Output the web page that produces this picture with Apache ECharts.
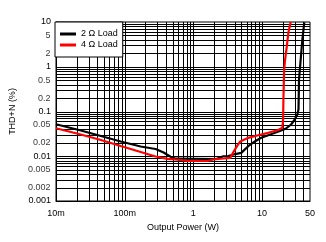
<!DOCTYPE html>
<html><head><meta charset="utf-8">
<script src="https://cdn.jsdelivr.net/npm/echarts@6/dist/echarts.min.js"></script>
<style>html,body{margin:0;padding:0;background:#fff}#c{width:326px;height:242px}</style>
</head><body><div id="c"></div>
<script>
// Output power (W), THD+N (%)
const load2 = [[0.01,0.052],[0.023,0.0376],[0.045,0.0283],[0.0877,0.0214],[0.171,0.0165],[0.282,0.0145],[0.369,0.0121],[0.466,0.00972],[0.55,0.00882],[2.16,0.00868],[2.73,0.0100],[3.23,0.0101],[4.08,0.0112],[4.99,0.0119],[6.30,0.0168],[7.96,0.0217],[9.73,0.0258],[12.3,0.0295],[15.5,0.0334],[19.0,0.0376],[22.4,0.0417],[26.5,0.0512],[30.0,0.0663],[32.7,0.0857],[34.0,0.111],[34.6,0.519],[36.6,1.45],[38.7,4.06],[41.3,9.75]];
const load4 = [[0.01,0.0423],[0.023,0.0306],[0.045,0.0231],[0.0877,0.0169],[0.171,0.01245],[0.282,0.00987],[0.421,0.00877],[0.55,0.00846],[0.822,0.00783],[1.60,0.00783],[1.96,0.00846],[2.73,0.0089],[3.45,0.00923],[3.78,0.0119],[4.32,0.0168],[4.83,0.0214],[6.30,0.0258],[8.80,0.0295],[12.3,0.0334],[17.2,0.0386],[19.8,0.0432],[20.3,0.0663],[20.5,0.185],[21.0,0.868],[21.7,1.45],[23.0,2.88],[24.2,5.74],[26.2,10]];
const seriesNames = ['2 \u03A9 Load','4 \u03A9 Load'];
const xGrid = [0.02,0.03,0.04,0.05,0.06,0.07,0.08,0.09,0.1,0.2,0.3,0.4,0.5,0.6,0.7,0.8,0.9,1,2,3,4,5,6,7,8,9,10,20,30,40];
const yGrid = [0.002,0.003,0.004,0.005,0.006,0.007,0.008,0.009,0.01,0.02,0.03,0.04,0.05,0.06,0.07,0.08,0.09,0.1,0.2,0.3,0.4,0.5,0.6,0.7,0.8,0.9,1,2,3,4,5,6,7,8,9];
const yExtraLabels = [5,2,0.5,0.2,0.05,0.02,0.005,0.002];
const xLabelText = {'0.01':'10m','0.1':'100m','1':'1','10':'10','50':'50'};
const X_MIN = 0.01, X_MAX = 50, Y_MIN = 0.001, Y_MAX = 10;

const FONT = '"Liberation Sans", Arial, sans-serif';
const chart = echarts.init(document.getElementById('c'), null, {renderer:'canvas'});

function gridRender(vertical) {
  return function (params, api) {
    let p1, p2;
    if (vertical) {
      const v = api.value(0);
      p1 = api.coord([v, Y_MIN]); p2 = api.coord([v, Y_MAX]);
      const x = Math.round(p1[0]) + 0.5;
      return {type:'line', shape:{x1:x, y1:p1[1], x2:x, y2:p2[1]}, style:{stroke:'#000', lineWidth:1}, silent:true};
    } else {
      const v = api.value(1);
      p1 = api.coord([X_MIN, v]); p2 = api.coord([X_MAX, v]);
      const y = Math.round(p1[1]) + 0.5;
      return {type:'line', shape:{x1:p1[0], y1:y, x2:p2[0], y2:y}, style:{stroke:'#000', lineWidth:1}, silent:true};
    }
  };
}

chart.setOption({
  animation:false,
  backgroundColor:'#fff',
  grid:{left:55, top:22, width:255, height:179, show:true, borderColor:'#000', borderWidth:1, backgroundColor:'transparent'},
  legend:{
    data: seriesNames.map(n => ({name:n, icon:'rect'})),
    orient:'vertical', left:55, top:22,
    backgroundColor:'#fff', borderColor:'#000', borderWidth:1, borderRadius:0,
    padding:[7,5,7,5], itemGap:1, itemWidth:16, itemHeight:3,
    textStyle:{fontSize:9, fontFamily:FONT, color:'#000', lineHeight:10},
    z:10
  },
  xAxis:{
    type:'log', min:X_MIN, max:X_MAX, logBase:10,
    name:'Output Power (W)', nameLocation:'middle', nameGap:21,
    nameTextStyle:{fontSize:9, fontFamily:FONT, color:'#000'},
    axisLine:{show:true, lineStyle:{color:'#000', width:1}},
    axisTick:{show:false},
    splitLine:{show:false},
    axisLabel:{fontSize:9, fontFamily:FONT, color:'#000', margin:8,
      formatter: v => { const k = String(+v.toPrecision(3)); return xLabelText[k] !== undefined ? xLabelText[k] : ''; }}
  },
  yAxis:{
    type:'log', min:Y_MIN, max:Y_MAX, logBase:10,
    name:'THD+N (%)', nameLocation:'middle', nameGap:39,
    nameTextStyle:{fontSize:9, fontFamily:FONT, color:'#000'},
    axisLine:{show:true, lineStyle:{color:'#000', width:1}},
    axisTick:{show:false},
    splitLine:{show:false},
    axisLabel:{fontSize:9, fontFamily:FONT, color:'#000', margin:5,
      formatter: v => String(+v.toPrecision(3))}
  },
  series:[
    {name:'vgrid', type:'custom', silent:true, z:1, clip:false,
     data: xGrid.map(v => [v, Y_MIN]), renderItem: gridRender(true)},
    {name:'hgrid', type:'custom', silent:true, z:1, clip:false,
     data: yGrid.map(v => [X_MIN, v]), renderItem: gridRender(false)},
    {name:'ylabels', type:'scatter', silent:true, z:2, clip:false,
     data: yExtraLabels.map(v => [X_MIN, v]), symbolSize:1,
     itemStyle:{color:'rgba(0,0,0,0)'},
     label:{show:true, position:'left', distance:5, color:'#000', fontSize:9, fontFamily:FONT,
       formatter: p => String(p.value[1])}},
    {name:seriesNames[0], type:'line', data:load2, showSymbol:false, symbol:'none', z:3,
     lineStyle:{color:'#000', width:2.2}, itemStyle:{color:'#000'}},
    {name:seriesNames[1], type:'line', data:load4, showSymbol:false, symbol:'none', z:3,
     lineStyle:{color:'#ff0000', width:2.2}, itemStyle:{color:'#ff0000'}}
  ]
});
</script></body></html>
